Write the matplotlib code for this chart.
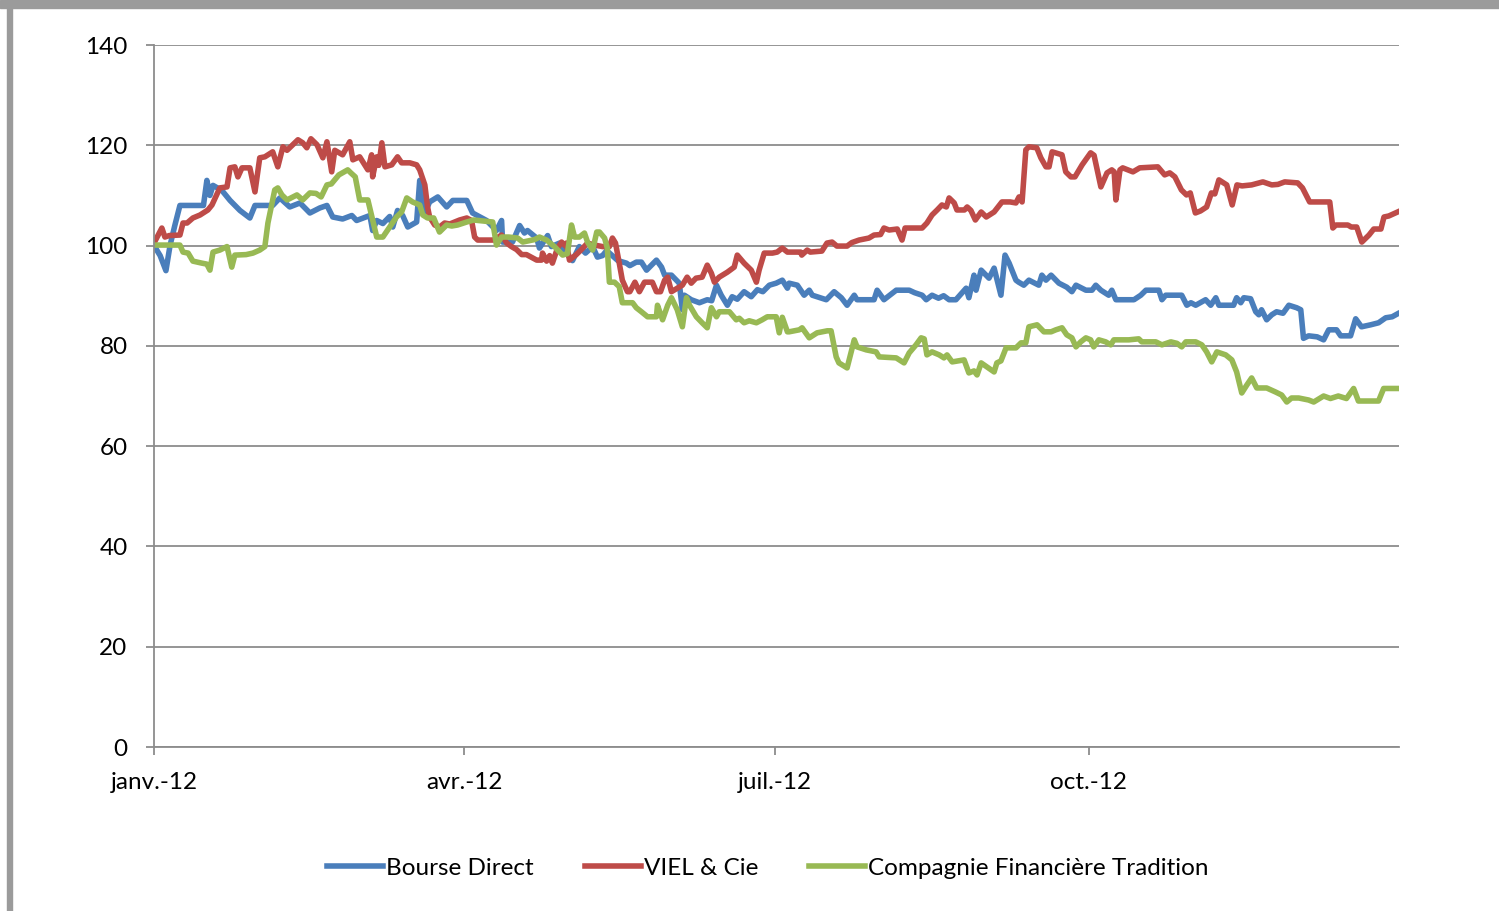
import matplotlib
matplotlib.use('Agg')
import matplotlib.pyplot as plt
from matplotlib.patches import Rectangle

# days since 1 Jan 2012, index values (base 100)
bd_day = [0, 1.8, 3.5, 4.7, 6.1, 7.6, 9.4, 14.5, 15.5, 16.4, 17.3, 19.9, 22.3, 25.2, 28.1, 29.6, 34.8, 36.9,
          39.8, 42.8, 45.7, 48.6, 50.7, 52.4, 55.3, 58, 59.4, 63.3, 64.1, 65.3, 67.1, 69.1, 70, 71.4, 72.9,
          74.4, 77, 77.9, 79.4, 80.8, 83.2, 85.8, 87.6, 91.7, 93.4, 97.5, 100.4, 101.9, 102.2, 105.1, 107.2,
          108.6, 109.5, 112.2, 113, 115.4, 116.5, 118.9, 120.9, 122.7, 124.7, 126.5, 128.6, 130, 131.5, 132.7,
          136, 138.5, 139.5, 141.4, 142.9, 144.4, 147.3, 148.8, 149.7, 151.7, 154, 154.9, 155.5, 157.5, 159.9,
          162.2, 163.5, 164.9, 166.3, 168.1, 169.5, 171, 173, 175.1, 176.9, 178.5, 180.4, 182.4, 184.2, 185.7,
          186.2, 188.6, 190.6, 192.1, 193, 197.1, 199.4, 201.5, 203.2, 205.3, 206.1, 211.1, 212, 214, 217.6,
          221.4, 223, 225.2, 226.4, 228.1, 230, 231.5, 233.1, 235.1, 238.1, 238.9, 240.4, 241, 242.5, 244.8,
          246.3, 248.3, 249.5, 250.7, 252.7, 253.5, 255, 256.5, 259.4, 260.3, 261.5, 263, 265.3, 267.6, 269.1,
          270.3, 273.2, 275, 276.1, 277.6, 279.9, 280.8, 282, 285.8, 287.3, 289.3, 290.8, 294.6, 295.5, 296.6,
          301.3, 302.8, 304, 305.4, 308.3, 309.8, 311.3, 312.2, 316.5, 317.4, 318.6, 319.5, 321.5, 323, 323.9,
          324.7, 326.2, 327.7, 329.1, 331, 332.7, 335, 336.2, 337, 338.5, 341, 342.9, 344.4, 346.7, 347.9,
          350.8, 352.3, 354, 356.7, 359, 361.1, 363, 364.6]
bd_val = [100, 98, 95, 100, 104, 108, 108, 108, 113, 110, 112, 111, 109, 107, 105.5, 108, 108, 109.5,
          107.7, 108.5, 106.5, 107.5, 108, 105.7, 105.3, 106, 105, 106, 103, 105, 104.4, 105.8, 103.7, 107, 106,
          103.7, 104.7, 113, 106.5, 108.7, 109.7, 107.7, 109, 109, 106.5, 105, 103, 105, 100.7, 100.7, 104,
          102.5, 103, 101.5, 99.5, 102, 99.8, 100.5, 98.5, 97, 99.8, 98.5, 99.8, 97.7, 98, 99,
          97, 96.5, 96, 96.7, 96.7, 95.1, 97.1, 95.7, 94.1, 94.1, 92.5, 87.2, 90.1, 89.2, 88.6,
          89.2, 89, 92.1, 90.1, 88.1, 89.8, 89.3, 90.8, 89.8, 91.2, 90.8, 92.1, 92.5, 93.1, 91.5,
          92.5, 92.1, 90.1, 91.1, 90.1, 89.2, 90.8, 89.6, 88.1, 90.1, 89.2, 89.2, 91.1, 89.2, 91.1,
          91.1, 90.6, 90.1, 89.2, 90.1, 89.5, 90, 89.2, 89.2, 91.5, 89.6, 94.1, 91.1, 95.1, 93.5,
          95.5, 90.1, 98.1, 96.5, 93.1, 92.7, 92.1, 93.1, 92.1, 94.1, 93.1, 94.1, 92.5, 91.7, 90.8,
          92.1, 91.1, 91.1, 92.1, 91.1, 90.1, 91.1, 89.2, 89.2, 89.2, 90.1, 91.1, 91.1, 89.2, 90.1,
          90.1, 88.1, 88.6, 88.1, 89.2, 88.1, 89.6, 88.1, 88.1, 89.6, 88.6, 89.6, 89.4, 86.8, 86.2,
          87.2, 85.2, 86.2, 86.8, 86.5, 88.1, 87.6, 87.2, 81.5, 82, 81.8, 81.2, 83.2, 83.2, 82,
          82, 85.4, 83.8, 84.2, 84.6, 85.6, 85.8, 86.4]

viel_day = [0, 2.3, 3.2, 4.5, 7.6, 8.5, 9.7, 11.4, 13.5, 15.8, 17, 19.3, 21.4, 22.3, 23.7, 24.6, 25.8, 28.1,
            29.6, 31, 32.5, 34.8, 36.3, 37.8, 39, 40.7, 42.2, 43.6, 44.8, 46, 47.8, 49.5, 50.7, 52.1, 53, 55.3,
            57.4, 58.3, 60.3, 62.7, 63.8, 64.1, 65.3, 65.9, 66.8, 67.7, 69.7, 71.4, 72.6, 75, 77, 77.9, 79.4,
            80.2, 80.8, 82.3, 83.7, 85.2, 86.7, 89.6, 91.7, 93.1, 94, 94.9, 99.5, 101.9, 103.4, 104.8, 106.3,
            107.8, 109.2, 112.2, 113.6, 113.9, 115.1, 116, 116.8, 118.3, 119.5, 120.5, 120.9, 121.8, 123.8,
            125.3, 127.1, 129.2, 131.5, 133.5, 134.4, 135.3, 136.4, 137.3, 138.8, 139.5, 141, 142.3, 143.8,
            146.1, 147.3, 148.5, 149.7, 150.6, 151.7, 153.4, 154.9, 156.3, 157.5, 158.9, 160.7, 162.2, 163.4,
            164.3, 165.7, 168.1, 170.1, 171, 173, 175.1, 176.6, 177.4, 178.9, 181.3, 182.7, 184.2, 185.7, 189.6,
            189.9, 191.5, 192.4, 195.8, 197.3, 198.8, 200.2, 203.2, 204.6, 206.7, 209.6, 211.1, 213, 214, 215.5,
            217.9, 219.3, 220.2, 225.2, 226.6, 228.1, 229.6, 231, 232.3, 233.1, 234.6, 235.4, 237.6, 238.4,
            239.5, 240.8, 242.5, 244, 246.3, 248.6, 251, 252.7, 253.6, 254.5, 255.6, 256.5, 258.8, 260, 261.5,
            262.4, 263.3, 266.2, 267.3, 268.8, 270, 272.1, 274.6, 275.6, 277.6, 279.4, 280.8, 281.5, 282, 283.2,
            284, 287, 289, 294.3, 296.3, 297.8, 299.3, 301.2, 302.7, 303.8, 305.3, 306.8, 308.6, 310, 311, 312.2,
            314.5, 316.1, 317.5, 319, 321.8, 325.1, 327.7, 329.5, 331.5, 335.3, 336.7, 338.8, 344.7, 345.6,
            346.5, 350, 351, 352.6, 354.1, 356.2, 357.6, 359.7, 360.6, 362, 364.6]
viel_val = [100.5, 103.5, 101.7, 102, 102.1, 104.5, 104.5, 105.5, 106.1, 107.1, 108.1, 111.5, 111.7, 115.5,
            115.7, 113.7, 115.5, 115.5, 110.7, 117.5, 117.7, 118.7, 115.7, 119.7, 119, 120.1, 121.1, 120.5,
            119.5, 121.3, 120.1, 117.5, 120.7, 114.7, 119, 118.1, 120.7, 117.1, 117.7, 115.1, 118.1, 113.7,
            117.7, 116, 120.5, 115.7, 116.1, 117.7, 116.5, 116.5, 116.1, 115.1, 112.1, 107.7, 105.7, 104.1,
            103.7, 104.5, 104.3, 105.1, 105.5, 105, 101.7, 101.1, 101.1, 102.1, 100.5, 99.8, 99.2, 98.2, 98.2,
            97.1, 97.1, 98.5, 96.9, 98, 96.5, 99.5, 100.7, 100, 100.5, 97.1, 98.2, 99.2, 100.5, 100.1, 99.8,
            99.8, 101.5, 100.5, 96.5, 93.1, 90.8, 90.8, 92.7, 90.8, 92.7, 92.7, 90.8, 90.8, 93.1, 93.7, 90.8,
            91.5, 92.1, 93.7, 92.5, 93.5, 93.7, 96.1, 94.5, 92.7, 93.7, 94.7, 95.7, 98.1, 96.5, 95.1, 92.7, 95.1,
            98.5, 98.5, 98.7, 99.5, 98.7, 98.7, 98.1, 99.1, 98.7, 98.9, 100.5, 100.7, 99.9, 99.9, 100.6, 101.1,
            101.5, 102.1, 102.2, 103.5, 103.1, 103.3, 101.1, 103.5, 103.5, 104.5, 106.1, 107.1, 108.1, 107.7,
            109.5, 108.5, 107.1, 107.1, 107.7, 107, 105.1, 106.7, 105.7, 106.7, 108.7, 108.7, 108.5, 109.7,
            108.7, 119.1, 119.7, 119.5, 117.5, 115.7, 115.7, 118.7, 118.1, 114.7, 113.7, 113.7, 116.1, 118.5,
            118, 111.7, 114.5, 115.1, 114.7, 109.1, 115.1, 115.5, 114.7, 115.5, 115.7, 114.1, 114.5, 113.7,
            111.1, 110.1, 110.5, 106.5, 106.9, 107.7, 110.5, 110.3, 113.1, 112.1, 108.1, 112.1, 111.9, 112.1,
            112.7, 112.1, 112.2, 112.7, 112.5, 111.5, 108.7, 108.7, 103.5, 104.1, 104.1, 103.7, 103.7, 100.7,
            102.1, 103.3, 103.3, 105.7, 105.9, 106.7]

cft_day = [0, 7.6, 8.5, 10, 11.4, 14, 15.5, 16.4, 17.3, 19.3, 21.4, 22.8, 23.7, 27, 29, 31, 32.5, 33.4, 35.4,
           36.3, 37.5, 39, 41.9, 43.6, 45.7, 47.5, 49, 50.7, 52, 54.2, 56.8, 57.7, 59, 60.3, 62.7, 64.1, 65.3,
           67.1, 69.1, 71.1, 72.6, 74.1, 75.8, 77.9, 78.8, 80.2, 82, 83.7, 85.8, 87.3, 89, 91.7, 93.7, 99.3,
           100.4, 101.9, 104, 106.6, 108.1, 111.6, 113, 115.1, 117.4, 119.8, 121.2, 122.4, 123.3, 124.7, 126.2,
           127.1, 128.6, 129.8, 130.6, 132.1, 132.9, 133.5, 135, 136.4, 137.3, 140.3, 141.4, 142.9, 144.7,
           147.3, 147.6, 149.1, 150.6, 151.7, 153.4, 154.9, 156.1, 157, 159, 160.7, 162.2, 163.4, 164.9, 165.7,
           168.7, 170.7, 171.6, 173, 174.5, 176.6, 178.3, 179.8, 182.4, 183.3, 184.2, 185.7, 186.2, 189.2, 190,
           192.1, 194.4, 197.4, 198.5, 200, 200.8, 203.2, 205.3, 206.1, 208.8, 211.7, 212.6, 217.6, 219.9,
           221.4, 223.4, 224.9, 225.8, 226.6, 228.1, 230.2, 231.6, 232.5, 234, 237.5, 238.9, 240.4, 241.3,
           242.5, 244.2, 246.3, 247.1, 248.3, 249.8, 252.7, 254.2, 255.6, 256.5, 258.9, 260.9, 263, 264.4,
           266.2, 267.6, 269.1, 270.3, 271.7, 273.2, 274.6, 275.5, 277, 279, 280.5, 281.4, 285.8, 288.7, 289.6,
           293.7, 295.5, 298.1, 299.9, 301.3, 302.5, 305.4, 307.2, 308.6, 310.1, 311.6, 314.2, 316, 317.4,
           318.9, 320.4, 321.8, 323.3, 326.2, 328.8, 330.6, 332.1, 333.5, 335.6, 338.5, 340, 342.9, 344.9,
           347.2, 349.6, 351.7, 353.1, 359, 360.5, 364.6]
cft_val = [100.1, 100.1, 98.7, 98.5, 96.9, 96.5, 96.3, 95.1, 98.7, 99.1, 99.8, 95.7, 98.1, 98.2, 98.5, 99.1,
           99.8, 104.5, 111.1, 111.5, 110.1, 109.1, 110.1, 109.1, 110.5, 110.4, 109.7, 112.1, 112.3, 114.1,
           115.1, 114.5, 113.7, 109.1, 109.1, 105.1, 101.7, 101.7, 103.7, 105.7, 106.7, 109.5, 108.7, 108.1,
           106.1, 105.5, 105.5, 102.7, 104.1, 103.9, 104.1, 104.7, 105.1, 104.7, 100.1, 101.7, 101.7, 101.5,
           100.7, 101.2, 101.7, 101.1, 99.8, 98.1, 98.4, 104.1, 101.7, 101.7, 102.5, 100.7, 99.1, 102.7, 102.7,
           101.5, 99.5, 92.7, 92.7, 91.8, 88.6, 88.6, 87.6, 86.8, 85.8, 85.8, 88.1, 85.2, 88.1, 89.6, 87.2, 83.8,
           89.6, 88.1, 85.8, 84.6, 83.6, 87.6, 85.8, 86.8, 86.8, 85.2, 85.5, 84.6, 85, 84.6, 85.2, 85.8, 85.8,
           82.6, 85.7, 82.8, 82.8, 83.2, 83.6, 81.6, 82.6, 83, 83, 77.8, 76.6, 75.6, 81.2, 79.8, 79.2, 78.8,
           77.8, 77.6, 76.6, 78.6, 80.2, 81.6, 81.4, 78.2, 78.8, 78.2, 77.6, 78.2, 76.8, 77.2, 74.6, 75, 74.2,
           76.6, 75.8, 74.8, 76.6, 77, 79.6, 79.6, 80.6, 80.6, 83.8, 84.2, 82.8, 82.8, 83.2, 83.6, 82.2, 81.6,
           79.8, 80.8, 81.6, 81.2, 79.8, 81.2, 80.8, 80.2, 81.2, 81.2, 81.4, 80.8, 80.8, 80.2, 80.8, 80.5, 79.8,
           80.8, 80.8, 80.2, 78.8, 76.8, 78.8, 78.2, 77.2, 74.8, 70.6, 72.2, 73.6, 71.6, 71.6, 70.8, 70.2, 68.8,
           69.6, 69.6, 69.2, 68.8, 70, 69.5, 70, 69.5, 71.5, 69, 69, 71.5, 71.5]

series_names = ['Bourse Direct', 'VIEL & Cie', 'Compagnie Financière Tradition']
series_colors = ['#4A7EBB', '#BE4B48', '#98B954']
month_ticks = [0, 91, 182, 274]
month_labels = ['janv.-12', 'avr.-12', 'juil.-12', 'oct.-12']
y_ticks = [0, 20, 40, 60, 80, 100, 120, 140]

plt.rcParams['font.family'] = ['Lato', 'DejaVu Sans']

fig = plt.figure(figsize=(14.99, 9.11), dpi=100)
ax = fig.add_axes([154 / 1499, 1 - 747 / 911, (1399 - 154) / 1499, (747 - 45) / 911])

for d, v, name, col in zip([bd_day, viel_day, cft_day], [bd_val, viel_val, cft_val],
                           series_names, series_colors):
    ax.plot(d, v, color=col, lw=4, label=name, solid_joinstyle='round')

ax.set_xlim(0, 365)
ax.set_ylim(0, 140)
ax.set_yticks(y_ticks)
ax.set_xticks(month_ticks)
ax.set_xticklabels(month_labels)
ax.grid(axis='y', color='#8c8c8c', lw=1.3)
ax.set_axisbelow(True)
for s in ['top', 'right']:
    ax.spines[s].set_visible(False)
for s in ['left', 'bottom']:
    ax.spines[s].set_color('#8c8c8c')
    ax.spines[s].set_linewidth(1.3)
ax.tick_params(axis='both', colors='#8c8c8c', labelcolor='black', labelsize=17.5, length=6, width=1.3)
ax.tick_params(axis='y', pad=13)
ax.tick_params(axis='x', pad=12)

fig.legend(loc='center', bbox_to_anchor=(768 / 1499, 1 - 868 / 911), ncol=3, frameon=False,
           fontsize=17.5, handlelength=2.3, handletextpad=0.12, columnspacing=2.1)

# grey frame of the source screenshot
fig.patches.append(Rectangle((0, 1 - 8 / 911), 1, 8 / 911, transform=fig.transFigure,
                             color='#9b9b9b', zorder=0))
fig.patches.append(Rectangle((7 / 1499, 0), 5 / 1499, 1, transform=fig.transFigure,
                             color='#9b9b9b', zorder=0))

fig.savefig('out.png', dpi=100)
